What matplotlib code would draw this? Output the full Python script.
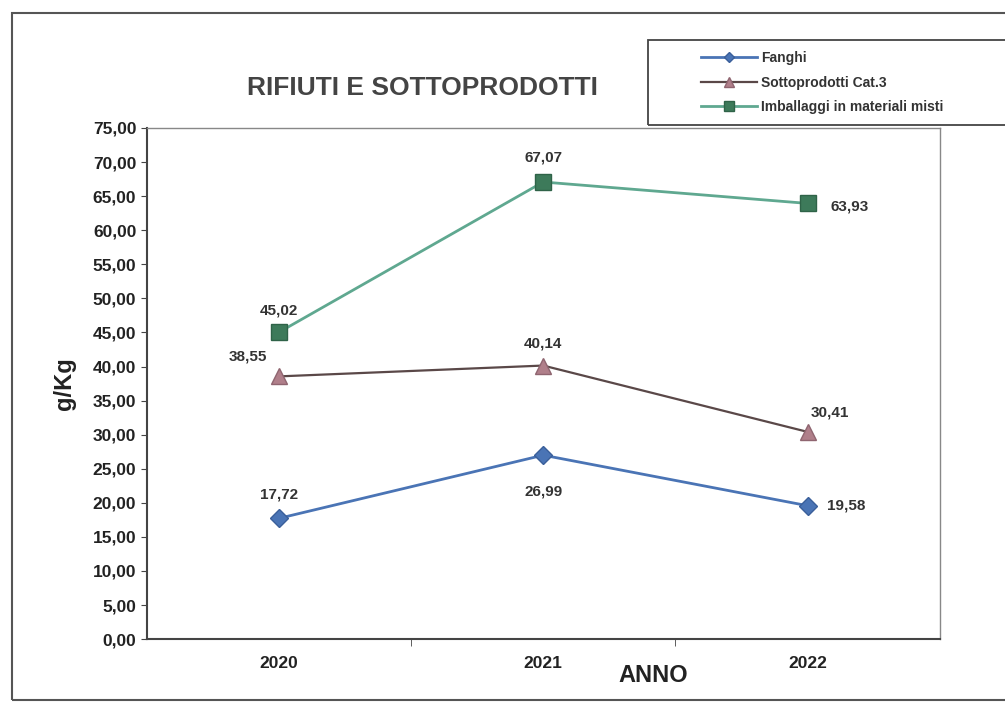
import numpy as np
import matplotlib
matplotlib.use("Agg")
import matplotlib.pyplot as plt
from matplotlib.patches import Rectangle
from matplotlib.ticker import FuncFormatter

# ---------------------------------------------------------------
# Data
# ---------------------------------------------------------------
anni = ["2020", "2021", "2022"]
fanghi = [17.72, 26.99, 19.58]
sottoprodotti = [38.55, 40.14, 30.41]
imballaggi = [45.02, 67.07, 63.93]
labels_serie = ["Fanghi", "Sottoprodotti Cat.3", "Imballaggi in materiali misti"]

plt.rcParams["font.family"] = ["Liberation Sans", "DejaVu Sans"]

fig = plt.figure(figsize=(10.05, 7.07), dpi=100)
ax = fig.add_axes([0.146, 0.096, 0.789, 0.723])

x = np.arange(len(anni))

l1, = ax.plot(x, fanghi, color="#4a74b5", lw=2, marker="D", ms=9,
              mfc="#4a74b5", mec="#3a5f9a", label=labels_serie[0])
l2, = ax.plot(x, sottoprodotti, color="#5a4848", lw=1.6, marker="^", ms=11,
              mfc="#b07f8a", mec="#8f6570", label=labels_serie[1])
l3, = ax.plot(x, imballaggi, color="#5fa890", lw=2, marker="s", ms=12,
              mfc="#3d7a5a", mec="#2f6348", label=labels_serie[2])

def fmt(v):
    return f"{v:.2f}".replace(".", ",")

# data labels (offsets in points)
offs = {
    "f": [(0, 17), (0, -26), (28, 0)],
    "s": [(-22, 14), (0, 16), (16, 14)],
    "i": [(0, 16), (0, 18), (30, -2)],
}
for key, serie in (("f", fanghi), ("s", sottoprodotti), ("i", imballaggi)):
    for xi, v, (dx, dy) in zip(x, serie, offs[key]):
        ax.annotate(fmt(v), (xi, v), xytext=(dx, dy), textcoords="offset points",
                    ha="center", va="center", fontsize=11, fontweight="bold",
                    color="#333333")

ax.set_xlim(-0.5, 2.5)
ax.set_ylim(0, 75)
ax.set_yticks(np.arange(0, 76, 5))
ax.yaxis.set_major_formatter(FuncFormatter(lambda v, p: fmt(v)))
ax.set_xticks(x)
ax.set_xticklabels(anni)
ax.set_xticks([0.5, 1.5], minor=True)
ax.tick_params(axis="x", which="major", length=0, pad=12)
ax.tick_params(axis="x", which="minor", length=5, color="#444444")
ax.tick_params(axis="y", length=4, color="#444444")
for lab in ax.get_xticklabels() + ax.get_yticklabels():
    lab.set_fontweight("bold")
    lab.set_fontsize(12.5)
    lab.set_color("#222222")

for side in ("left", "bottom"):
    ax.spines[side].set_color("#444444")
    ax.spines[side].set_linewidth(1.5)
for side in ("top", "right"):
    ax.spines[side].set_color("#888888")
    ax.spines[side].set_linewidth(1.0)

ax.set_ylabel("g/Kg", fontsize=17, fontweight="bold", color="#222222", labelpad=12)
fig.text(0.65, 0.045, "ANNO", fontsize=17, fontweight="bold", color="#222222",
         ha="center", va="center")
fig.text(0.42, 0.875, "RIFIUTI E SOTTOPRODOTTI", fontsize=19, fontweight="bold",
         color="#444444", ha="center", va="center")

# outer chart frame
fig.patches.append(Rectangle((0.012, 0.01), 1.0, 0.972, transform=fig.transFigure,
                             fill=False, ec="#555555", lw=1.5))
# legend frame
fig.patches.append(Rectangle((0.645, 0.823), 0.4, 0.121, transform=fig.transFigure,
                             fill=False, ec="#444444", lw=1.3))

leg = fig.legend(handles=[l1, l2, l3], loc="center left",
                 bbox_to_anchor=(0.692, 0.883), frameon=False, fontsize=10,
                 handlelength=4, markerscale=0.6, handletextpad=0.3,
                 labelspacing=0.75, borderaxespad=0)
for t in leg.get_texts():
    t.set_fontweight("bold")
    t.set_color("#333333")

fig.savefig("out.png", dpi=100)
